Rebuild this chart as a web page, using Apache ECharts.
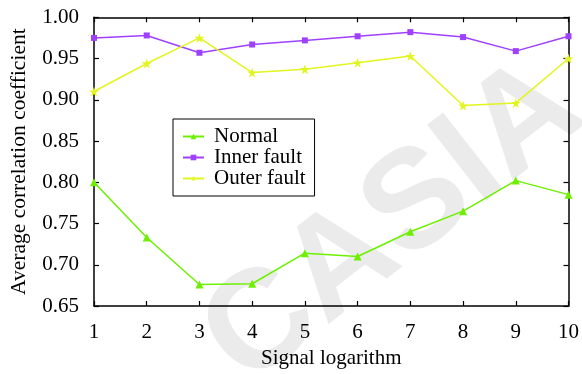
<!DOCTYPE html>
<html>
<head>
<meta charset="utf-8">
<script src="https://cdn.jsdelivr.net/npm/echarts@6/dist/echarts.min.js"></script>
<style>
  html, body { margin: 0; padding: 0; background: #fff; }
  #chart { width: 582px; height: 374px; }
</style>
</head>
<body>
<div id="chart"></div>
<script>
// Signal logarithm (x) against average correlation coefficient (y)
var categories = [1, 2, 3, 4, 5, 6, 7, 8, 9, 10];
var normal      = [0.800, 0.733, 0.676, 0.677, 0.714, 0.710, 0.740, 0.765, 0.802, 0.785];
var innerFault  = [0.975, 0.978, 0.957, 0.967, 0.972, 0.977, 0.982, 0.976, 0.959, 0.977];
var outerFault  = [0.910, 0.944, 0.975, 0.933, 0.937, 0.945, 0.953, 0.893, 0.896, 0.950];
var yTicks = [0.65, 0.70, 0.75, 0.80, 0.85, 0.90, 0.95, 1.00];

var FONT = '"Liberation Serif", "Times New Roman", serif';
var STAR = 'path://M50,0 L61,35 L98,35 L68,57 L79,91 L50,70 L21,91 L32,57 L2,35 L39,35 Z';

function pairs(vals) {
  return vals.map(function (v, i) { return [categories[i], v]; });
}

function lineSeries(name, vals, color, symbol, size) {
  return {
    name: name,
    type: 'line',
    data: pairs(vals),
    symbol: symbol,
    symbolSize: size,
    showSymbol: true,
    lineStyle: { color: color, width: 1.5 },
    itemStyle: { color: color, borderWidth: 0 },
    z: 3
  };
}

function axisCommon() {
  return {
    axisLine: { show: true, onZero: false, lineStyle: { color: '#000', width: 1.5 } },
    axisTick: { show: true, inside: true, length: 5, lineStyle: { color: '#000', width: 1.2 } },
    splitLine: { show: false }
  };
}

var xBottom = Object.assign(axisCommon(), {
  type: 'value', min: 1, max: 10, interval: 1, position: 'bottom',
  name: 'Signal logarithm', nameLocation: 'middle', nameGap: 42,
  nameTextStyle: { fontFamily: FONT, fontSize: 21, color: '#000' },
  axisLabel: { fontFamily: FONT, fontSize: 21, color: '#000', margin: 16 }
});
var xTop = Object.assign(axisCommon(), {
  type: 'value', min: 1, max: 10, interval: 1, position: 'top',
  axisLabel: { show: false }
});
var yLeft = Object.assign(axisCommon(), {
  type: 'value', min: 0.65, max: 1.00, interval: 0.05, position: 'left',
  name: 'Average correlation coefficient', nameLocation: 'middle', nameGap: 64,
  nameTextStyle: { fontFamily: FONT, fontSize: 21.5, color: '#000' },
  axisLabel: {
    fontFamily: FONT, fontSize: 21, color: '#000', margin: 15,
    formatter: function (v) {
      var hit = yTicks.find(function (t) { return Math.abs(t - v) < 1e-6; });
      return hit !== undefined ? hit.toFixed(2) : '';
    }
  }
});
var yRight = Object.assign(axisCommon(), {
  type: 'value', min: 0.65, max: 1.00, interval: 0.05, position: 'right',
  axisLabel: { show: false }
});

var chart = echarts.init(document.getElementById('chart'), null, { renderer: 'canvas' });
chart.setOption({
  backgroundColor: '#fff',
  animation: false,
  grid: { left: 89.5, right: 11.3, top: 17.3, bottom: 66.7, containLabel: false },
  xAxis: [xBottom, xTop],
  yAxis: [yLeft, yRight],
  legend: {
    orient: 'vertical',
    left: 173, top: 119,
    padding: [7, 9, 7, 9],
    itemGap: 0,
    itemWidth: 21, itemHeight: 7,
    borderColor: '#000', borderWidth: 1,
    backgroundColor: '#fff',
    textStyle: { fontFamily: FONT, fontSize: 21, lineHeight: 20, color: '#000', padding: [0, 0, 0, 5] },
    data: ['Normal', 'Inner fault', 'Outer fault']
  },
  graphic: [{
    type: 'text',
    z: -10,
    x: 394, y: 224,
    rotation: 38 * Math.PI / 180,
    style: {
      text: 'CASIA',
      fill: '#ebebeb',
      font: 'bold 140px "Liberation Sans", Arial, sans-serif',
      align: 'center',
      verticalAlign: 'middle'
    }
  }],
  series: [
    lineSeries('Normal', normal, '#6cf000', 'triangle', 8),
    lineSeries('Inner fault', innerFault, '#a040ff', 'rect', 6),
    lineSeries('Outer fault', outerFault, '#e2f51e', STAR, 10)
  ]
});
</script>
</body>
</html>
